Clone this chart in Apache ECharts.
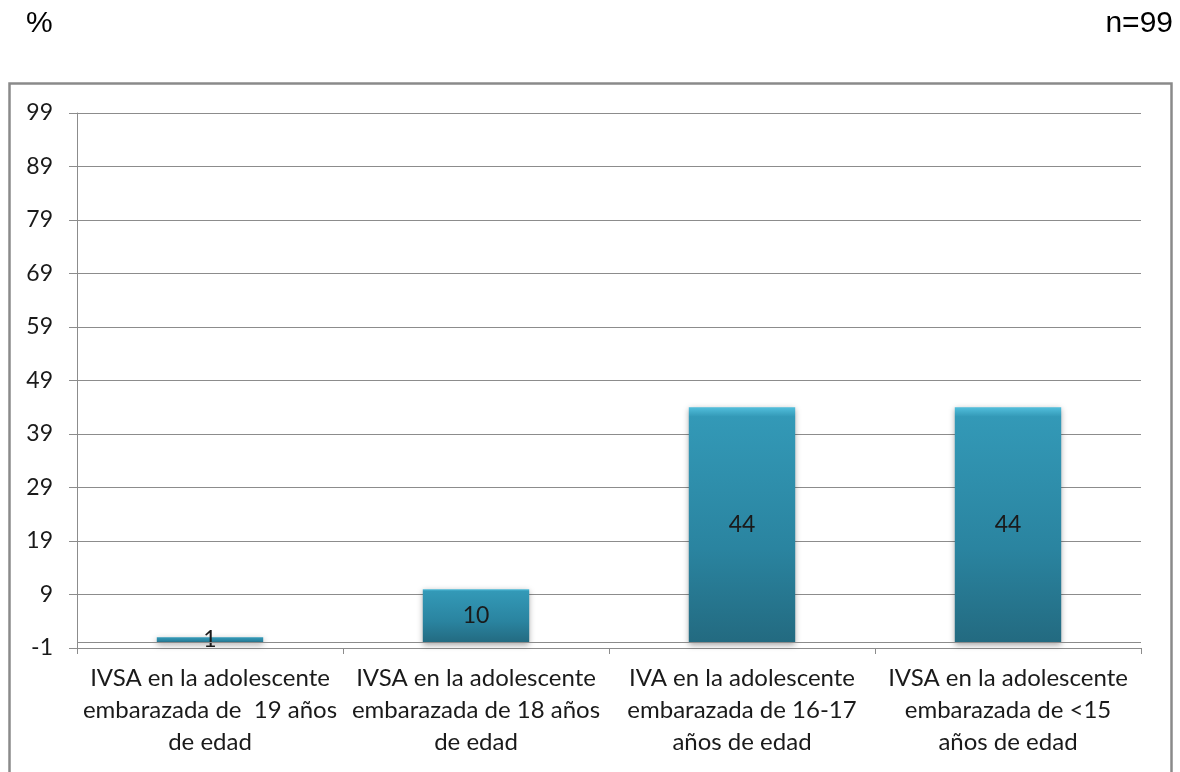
<!DOCTYPE html>
<html>
<head>
<meta charset="utf-8">
<style>
  html, body { margin: 0; padding: 0; background: #fff; }
  #chart { width: 1180px; height: 772px; }
</style>
<script src="https://cdn.jsdelivr.net/npm/echarts@6/dist/echarts.min.js"></script>
</head>
<body>
<div id="chart"></div>
<script>
// Categories (age at first sexual intercourse of pregnant adolescents)
const categories = [
  'IVSA en la adolescente\nembarazada de  19 años\nde edad',
  'IVSA en la adolescente\nembarazada de 18 años\nde edad',
  'IVA en la adolescente\nembarazada de 16-17\naños de edad',
  'IVSA en la adolescente\nembarazada de <15\naños de edad'
];
// Percentages
const values = [1, 10, 44, 44];
// Value axis range
const yMin = -1;
const yMax = 99;
const yStep = 10;

const textColor = '#1a1a1a';
const gridColor = '#8c8c8c';
const bodyFont = 'Lato, "Open Sans", "Noto Sans", sans-serif';
const headFont = '30px "Liberation Sans", Arial, sans-serif';

const chart = echarts.init(document.getElementById('chart'), null, { renderer: 'canvas' });

chart.setOption({
  animation: false,
  backgroundColor: '#ffffff',
  graphic: [
    { type: 'text', left: 26, top: 9, style: { text: '%', font: headFont, fill: '#000' } },
    { type: 'text', right: 7, top: 9, style: { text: 'n=99', font: headFont, fill: '#000' } },
    {
      type: 'rect', z: -10, silent: true,
      shape: { x: 9.5, y: 83.5, width: 1162, height: 740 },
      style: { fill: 'none', stroke: '#8a8a8a', lineWidth: 2.5 }
    }
  ],
  grid: { left: 77, right: 39, top: 113, bottom: 124, containLabel: false },
  xAxis: {
    type: 'category',
    data: categories,
    axisLine: { onZero: false, lineStyle: { color: gridColor, width: 1 } },
    axisTick: { show: true, alignWithLabel: false, length: 6, lineStyle: { color: gridColor } },
    axisLabel: {
      interval: 0,
      color: textColor,
      fontFamily: bodyFont,
      fontSize: 24,
      lineHeight: 32,
      margin: 14,
      overflow: 'none'
    }
  },
  yAxis: {
    type: 'value',
    min: yMin,
    max: yMax,
    interval: yStep,
    axisLine: { show: true, lineStyle: { color: gridColor, width: 1 } },
    axisTick: { show: true, length: 8, lineStyle: { color: gridColor } },
    axisLabel: { color: textColor, fontFamily: bodyFont, fontSize: 23, margin: 24 },
    splitLine: { show: true, lineStyle: { color: gridColor, width: 1 } }
  },
  series: [{
    type: 'bar',
    data: values,
    barWidth: '40%',
    itemStyle: {
      color: new echarts.graphic.LinearGradient(0, 0, 0, 1, [
        { offset: 0, color: '#52bfdc' },
        { offset: 0.04, color: '#3399b7' },
        { offset: 0.6, color: '#2a84a0' },
        { offset: 1, color: '#236a80' }
      ]),
      shadowColor: 'rgba(0,0,0,0.35)',
      shadowBlur: 6,
      shadowOffsetY: 2
    },
    label: {
      show: true,
      position: 'inside',
      color: textColor,
      fontFamily: bodyFont,
      fontSize: 23
    },
    markLine: {
      silent: true,
      symbol: 'none',
      label: { show: false },
      lineStyle: { color: gridColor, type: 'solid', width: 1 },
      data: [{ yAxis: 0 }]
    }
  }]
});
</script>
</body>
</html>
